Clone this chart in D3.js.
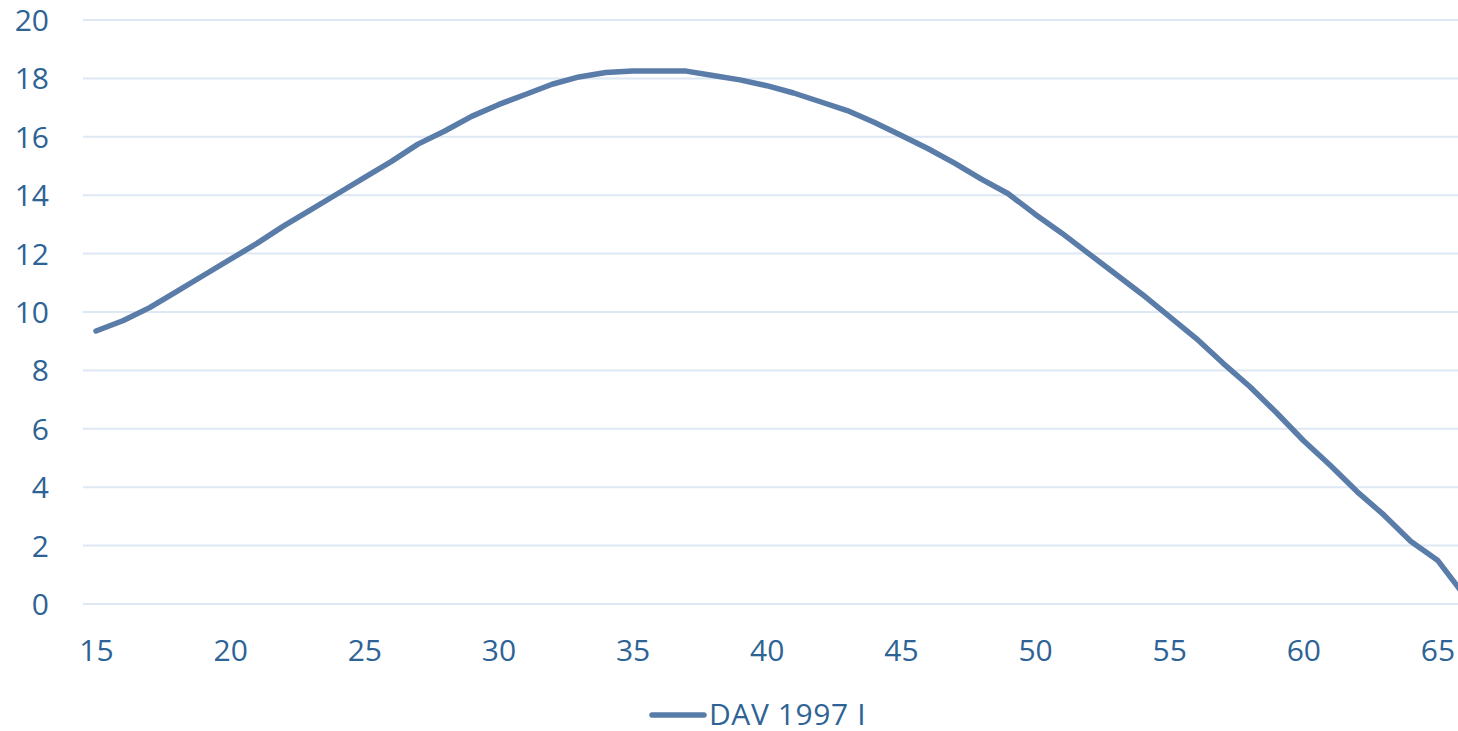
<!DOCTYPE html>
<html>
<head>
<meta charset="utf-8">
<script src="https://cdn.jsdelivr.net/npm/d3@7"></script>
<style>
  body { margin: 0; background: #fff; }
  text { font-family: "Open Sans", "Noto Sans", sans-serif; fill: #2e6395; }
</style>
</head>
<body>
<div id="chart"></div>
<script>
// ages on the x axis and values of the DAV 1997 I curve
var ages = [15, 16, 17, 18, 19, 20, 21, 22, 23, 24, 25, 26, 27, 28, 29, 30, 31, 32, 33, 34,
  35, 36, 37, 38, 39, 40, 41, 42, 43, 44, 45, 46, 47, 48, 49, 50, 51, 52, 53, 54,
  55, 56, 57, 58, 59, 60, 61, 62, 63, 64, 65, 66];
var dav1997 = [9.35, 9.7, 10.15, 10.7, 11.25, 11.8, 12.35, 12.95, 13.5, 14.05,
  14.6, 15.15, 15.75, 16.2, 16.7, 17.1, 17.45, 17.8, 18.05, 18.2,
  18.25, 18.25, 18.25, 18.1, 17.95, 17.75, 17.5, 17.2, 16.9, 16.5,
  16.05, 15.6, 15.1, 14.55, 14.05, 13.35, 12.7, 12.0, 11.3, 10.6,
  9.85, 9.1, 8.25, 7.45, 6.55, 5.6, 4.75, 3.85, 3.05, 2.15, 1.5, 0.3];
var xTicks = [15, 20, 25, 30, 35, 40, 45, 50, 55, 60, 65];
var yTicks = [0, 2, 4, 6, 8, 10, 12, 14, 16, 18, 20];
var seriesName = "DAV 1997 I";

var svgWidth = 1458;
var svgHeight = 731;

var plotLeft = 83;
var plotRight = 1458;

var svg = d3.select("#chart")
  .append("svg")
  .attr("width", svgWidth)
  .attr("height", svgHeight);

var xScale = d3.scaleLinear()
  .domain([15, 65])
  .range([96, 1437.5]);

var yScale = d3.scaleLinear()
  .domain([0, 20])
  .range([604, 20]);

svg.append("defs").append("clipPath")
  .attr("id", "plotclip")
  .append("rect")
  .attr("x", plotLeft)
  .attr("y", 0)
  .attr("width", plotRight - plotLeft)
  .attr("height", 640);

// gridlines
svg.append("g")
  .selectAll("line")
  .data(yTicks)
  .enter()
  .append("line")
  .attr("x1", plotLeft)
  .attr("x2", plotRight)
  .attr("y1", d => yScale(d))
  .attr("y2", d => yScale(d))
  .attr("stroke", "#dde8f4")
  .attr("stroke-width", 2);

// y axis labels
var leftAxis = d3.axisLeft(yScale).tickValues(yTicks).tickSize(0).tickPadding(0);
var yAxis = svg.append("g")
  .attr("transform", "translate(49, 0)")
  .call(leftAxis);
yAxis.select(".domain").remove();
yAxis.selectAll("text")
  .attr("font-size", 30)
  .attr("dy", "0.35em")
  .style("font-family", "\"Open Sans\", sans-serif")
  .attr("fill", "#2e6395");

// x axis labels
var bottomAxis = d3.axisBottom(xScale).tickValues(xTicks).tickSize(0).tickPadding(0);
var xAxis = svg.append("g")
  .attr("transform", "translate(0, 640)")
  .call(bottomAxis);
xAxis.select(".domain").remove();
xAxis.selectAll("text")
  .attr("font-size", 30)
  .style("font-family", "\"Open Sans\", sans-serif")
  .attr("fill", "#2e6395");

// the curve
var line = d3.line()
  .x((d, i) => xScale(ages[i]))
  .y(d => yScale(d));

svg.append("path")
  .datum(dav1997)
  .attr("clip-path", "url(#plotclip)")
  .attr("d", line)
  .attr("fill", "none")
  .attr("stroke", "#5a7ca8")
  .attr("stroke-width", 5.5)
  .attr("stroke-linejoin", "round")
  .attr("stroke-linecap", "round");

// legend
var legend = svg.append("g");
legend.append("line")
  .attr("x1", 652)
  .attr("x2", 704)
  .attr("y1", 715)
  .attr("y2", 715)
  .attr("stroke", "#5a7ca8")
  .attr("stroke-width", 5.5)
  .attr("stroke-linecap", "round");
legend.append("text")
  .attr("x", 709)
  .attr("y", 714)
  .attr("dy", "0.35em")
  .attr("font-size", 30)
  .attr("letter-spacing", 0.6)
  .text(seriesName);
</script>
</body>
</html>
